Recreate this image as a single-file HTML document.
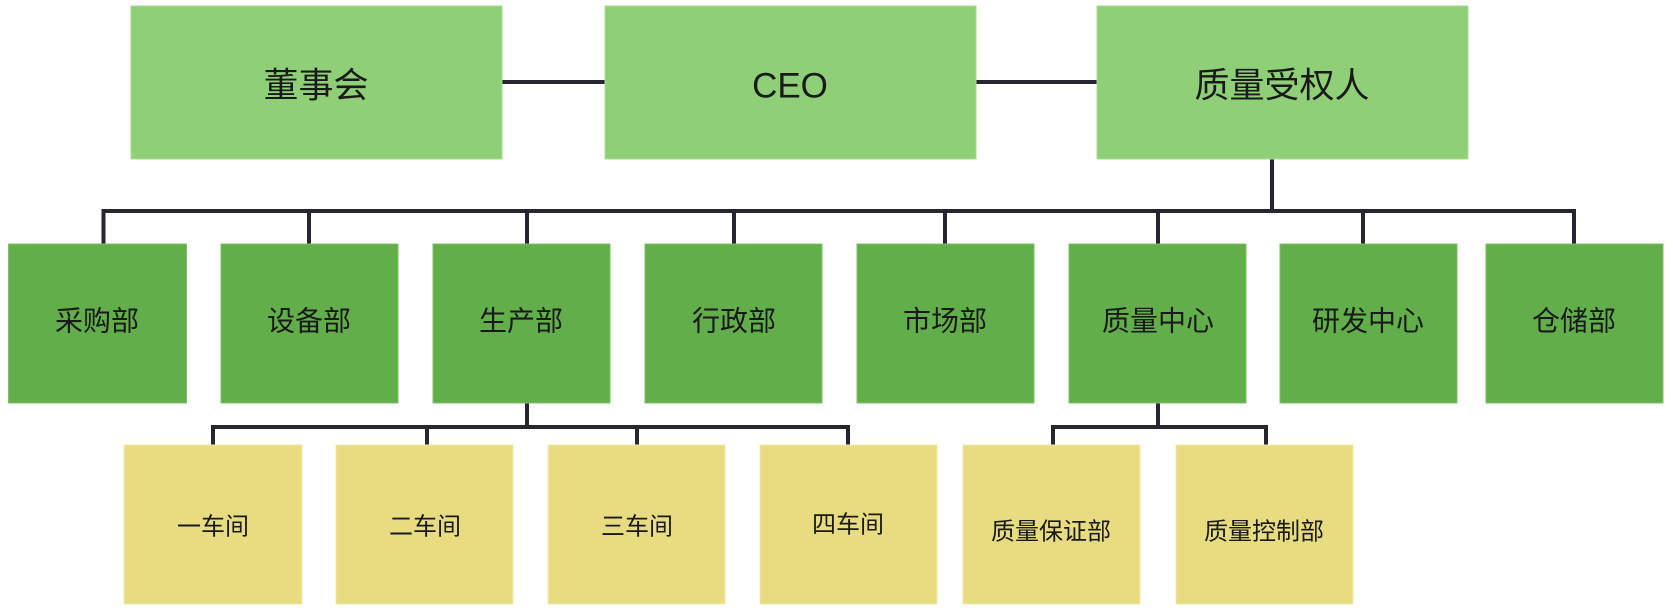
<!DOCTYPE html>
<html><head><meta charset="utf-8"><style>
html,body{margin:0;padding:0;background:#fff;}
svg{display:block}
text{font-family:"Liberation Sans","Noto Sans CJK SC",sans-serif;fill:#1a1a1a;text-anchor:middle;dominant-baseline:central}
</style></head><body>
<svg width="1673" height="614" viewBox="0 0 1673 614" xmlns="http://www.w3.org/2000/svg">
<g stroke="#272530" stroke-width="4" fill="none">
<line x1="502" y1="82" x2="605" y2="82"/>
<line x1="976" y1="82" x2="1097" y2="82"/>
<polyline points="1272,159 1272,211"/>
<polyline points="103.5,244 103.5,211 1574,211 1574,244"/>
<line x1="309" y1="211" x2="309" y2="244"/>
<line x1="527" y1="211" x2="527" y2="244"/>
<line x1="734" y1="211" x2="734" y2="244"/>
<line x1="945" y1="211" x2="945" y2="244"/>
<line x1="1158" y1="211" x2="1158" y2="244"/>
<line x1="1363" y1="211" x2="1363" y2="244"/>
<line x1="527" y1="403" x2="527" y2="427"/>
<polyline points="213,445 213,427 848,427 848,445"/>
<line x1="427" y1="427" x2="427" y2="445"/>
<line x1="637" y1="427" x2="637" y2="445"/>
<line x1="1158" y1="403" x2="1158" y2="427"/>
<polyline points="1053,445 1053,427 1266,427 1266,445"/>
</g>
<g fill="#8ecf77" stroke="#a8dc94" stroke-width="1">
<rect x="131" y="6" width="371" height="153"/>
<rect x="605" y="6" width="371" height="153"/>
<rect x="1097" y="6" width="371" height="153"/>
</g>
<g fill="#62ae4a" stroke="#7fc06a" stroke-width="1">
<rect x="8.5" y="244" width="178" height="159"/>
<rect x="221" y="244" width="177" height="159"/>
<rect x="433" y="244" width="177" height="159"/>
<rect x="645" y="244" width="177" height="159"/>
<rect x="857" y="244" width="177" height="159"/>
<rect x="1069" y="244" width="177" height="159"/>
<rect x="1280" y="244" width="177" height="159"/>
<rect x="1486" y="244" width="177" height="159"/>
</g>
<g fill="#e8dc80" stroke="#f0e8a8" stroke-width="1">
<rect x="124" y="445" width="178" height="159"/>
<rect x="336" y="445" width="177" height="159"/>
<rect x="548" y="445" width="177" height="159"/>
<rect x="760" y="445" width="177" height="159"/>
<rect x="963" y="445" width="177" height="159"/>
<rect x="1176" y="445" width="177" height="159"/>
</g>
<g font-size="35">
<text x="316" y="86">董事会</text>
<text x="790" y="86">CEO</text>
<text x="1282" y="86">质量受权人</text>
</g>
<g font-size="28">
<text x="97" y="321">采购部</text>
<text x="309" y="321">设备部</text>
<text x="521" y="321">生产部</text>
<text x="734" y="321">行政部</text>
<text x="945" y="321">市场部</text>
<text x="1158" y="321">质量中心</text>
<text x="1368" y="321">研发中心</text>
<text x="1574" y="321">仓储部</text>
</g>
<g font-size="24">
<text x="213" y="527">一车间</text>
<text x="425" y="527">二车间</text>
<text x="637" y="527">三车间</text>
<text x="848" y="525">四车间</text>
<text x="1051" y="532">质量保证部</text>
<text x="1264" y="532">质量控制部</text>
</g>
</svg>
</body></html>
